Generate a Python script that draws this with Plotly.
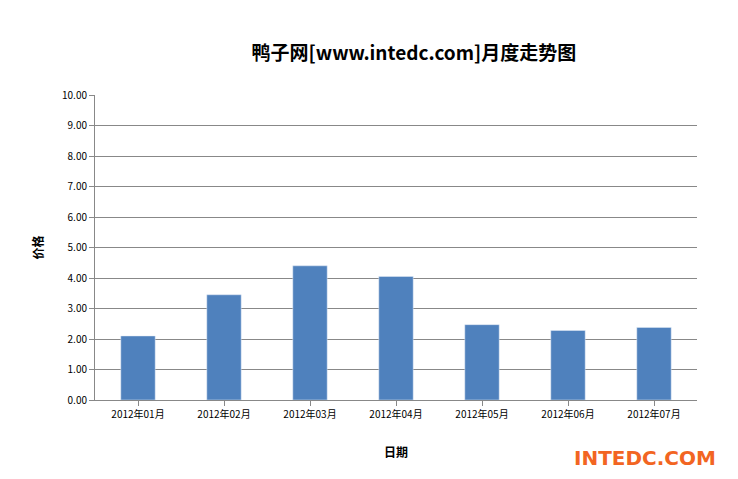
import plotly.graph_objects as go

months = ["2012年01月","2012年02月","2012年03月","2012年04月","2012年05月","2012年06月","2012年07月"]
prices = [2.10, 3.45, 4.40, 4.05, 2.47, 2.28, 2.38]
ticks = [i for i in range(11)]
tick_text = [f"{v:.2f}" for v in ticks]

fig = go.Figure(go.Bar(x=months, y=prices, marker_color="#4f81bd", width=0.4))
fig.update_layout(
    width=738, height=479, paper_bgcolor="white", plot_bgcolor="white",
    margin=dict(l=87, r=49, t=87, b=87),
    font=dict(family="Noto Sans CJK SC", size=10, color="black"),
    title=dict(text="<b>鸭子网[www.intedc.com]月度走势图</b>", x=0.55, y=0.92, xanchor="center",
               font=dict(size=19, family="Noto Sans CJK SC")),
    showlegend=False,
    xaxis=dict(title=dict(text="<b>日期</b>", standoff=28), showline=True, linecolor="#888",
               ticks="outside", tickcolor="#888"),
    yaxis=dict(title=dict(text="<b>价格</b>"), range=[0, 10], tickvals=ticks, ticktext=tick_text,
               showline=True, linecolor="#888", gridcolor="#888", ticks="outside", tickcolor="#888"),
)
fig.add_annotation(text="<b>INTEDC.COM</b>", xref="paper", yref="paper", x=1.035, y=-0.235,
                   xanchor="right", showarrow=False,
                   font=dict(size=20, color="#f26522", family="DejaVu Sans"))
fig.write_html("out.html")
